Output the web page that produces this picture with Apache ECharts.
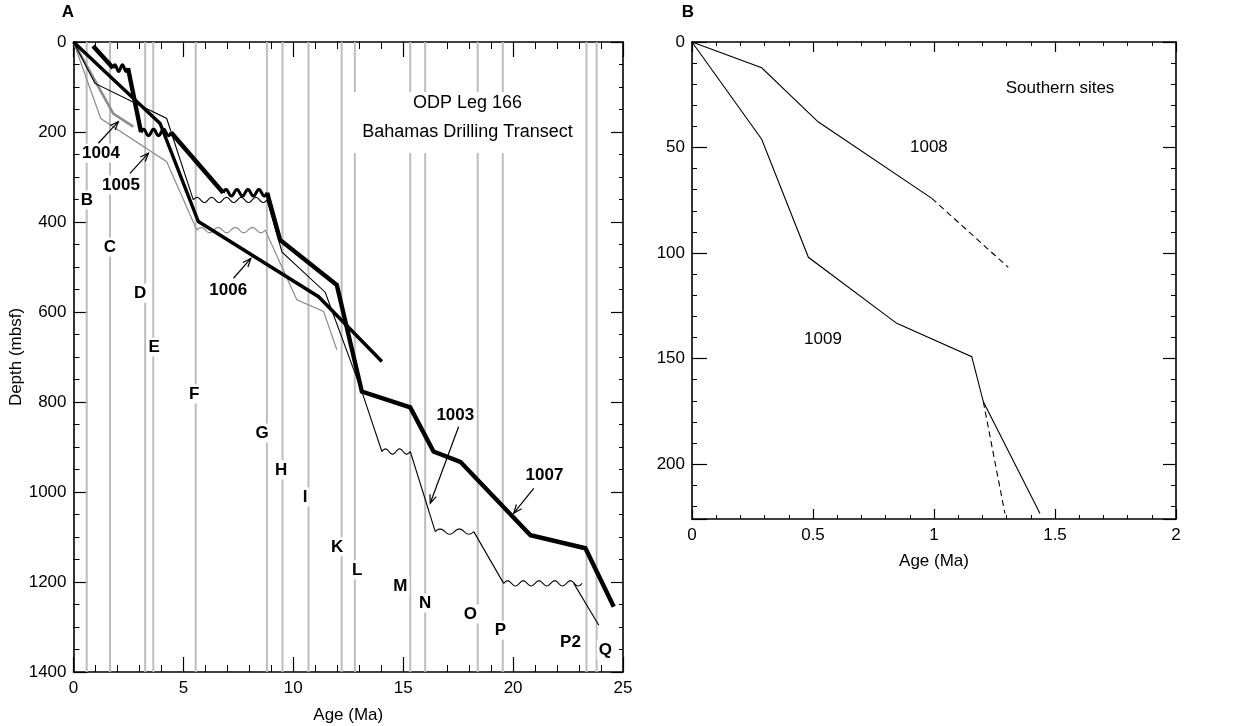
<!DOCTYPE html>
<html><head><meta charset="utf-8">
<script src="https://cdn.jsdelivr.net/npm/echarts@6/dist/echarts.min.js"></script>
<style>html,body{margin:0;padding:0;background:#fff}#c{width:1252px;height:726px}</style>
</head><body><div id="c"></div>
<script>
// ---------- Panel A data (Age in Ma, Depth in mbsf) ----------
const boundaryAges = [0.60,1.66,3.26,3.63,5.56,8.80,9.51,10.69,12.20,12.80,15.32,16.00,18.39,19.53,23.34,23.80];
const boundaryNames = ['B','C','D','E','F','G','H','I','K','L','M','N','O','P','P2','Q'];
const boundaryLabelAges = [0.61,1.66,3.03,3.67,5.49,8.58,9.45,10.54,12.00,12.91,14.87,16.00,18.06,19.42,22.61,24.20];
const boundaryLabelDepths = [351,456,558,678,782,869,951,1011,1122,1173,1209,1247,1271,1307,1333,1351];

const site1003Segments = [
  [[0,0],[0.98,92],[4.24,170],[5.45,351]],
  [[8.80,351],[9.49,467],[11.45,556],[13.12,777],[14.03,910]],
  [[15.32,910],[16.46,1088]],
  [[18.21,1088],[19.57,1203]],
  [[22.76,1203],[23.90,1296]]
];
const site1003Unconformities = [[5.45,8.80,351],[14.03,15.32,910],[16.46,18.21,1088],[19.57,23.14,1203]];

const site1004 = [[0,0],[1.81,159],[2.72,188]];

const site1005Segments = [
  [[0,0],[1.24,170],[4.24,266],[5.61,418]],
  [[8.72,418],[10.16,573],[11.38,599],[11.98,684]]
];
const site1005Unconformities = [[5.61,8.72,418]];

const site1006 = [[0,0],[3.94,181],[5.68,399],[11.15,566],[14.03,710]];

const site1007Segments = [
  [[0.89,9],[1.80,58]],
  [[2.48,58],[3.07,200]],
  [[4.44,201],[6.81,335]],
  [[8.81,335],[9.40,440],[11.98,540],[13.12,777],[15.32,812],[16.38,910],[17.60,933],[20.79,1096],[23.29,1125],[24.58,1255]]
];
const site1007Unconformities = [[1.80,2.48,58],[3.07,4.44,201],[6.81,8.81,335]];

const siteLabelNames = ['1004','1005','1006','1003','1007'];
const siteLabelPositions = [[1.25,247],[2.16,318],[7.04,551],[17.37,829],[21.43,964]];
const siteArrows = [ // tail age, tail depth, head age, head depth
  [1.13,225,2.04,177],
  [2.57,292,3.41,247],
  [7.28,525,8.07,481],
  [17.52,855,16.23,1025],
  [20.94,992,20.03,1047]
];

// ---------- Panel B data ----------
const site1008Solid = [[0,0],[0.288,12.2],[0.521,37.8],[0.991,74.1]];
const site1008Dashed = [[0.991,74.1],[1.307,106.8]];
const site1009Solid = [[0,0],[0.288,46.1],[0.481,102.0],[0.846,133.3],[1.156,149.1],[1.204,170.5],[1.438,223.4]];
const site1009Dashed = [[1.204,170.5],[1.293,223.4]];
const panelBLabelNames = ['1008','1009'];
const panelBLabelPositions = [[0.979,49.8],[0.541,140.8]];

const FONT = '"Liberation Sans", Arial, Helvetica, sans-serif';
const FS = 17;

const chart = echarts.init(document.getElementById('c'), null, {renderer:'canvas'});

function lineSeries(data, color, width, z, xi, yi, dashed){
  return {type:'line', xAxisIndex:xi, yAxisIndex:yi, data:data, symbol:'none', showSymbol:false,
    lineStyle:{color:color, width:width, type: dashed ? [6,4] : 'solid', join:'miter', cap:'butt'},
    z:z, silent:true, animation:false, emphasis:{disabled:true}, clip:true};
}
function waveSeries(waves, color, width, wavelength, amp, z){
  return {type:'custom', xAxisIndex:0, yAxisIndex:0, data:waves, z:z, silent:true, animation:false,
    encode:{x:[0,1], y:2},
    renderItem:function(params, api){
      const a = api.coord([api.value(0), api.value(2)]);
      const b = api.coord([api.value(1), api.value(2)]);
      const len = b[0]-a[0];
      const n = Math.max(2, Math.round(len/wavelength));
      const pts = [];
      const steps = 20*n;
      for(let i=0;i<=steps;i++){
        const t=i/steps;
        pts.push([a[0]+len*t, a[1]-amp*Math.sin(2*Math.PI*n*t)]);
      }
      return {type:'polyline', shape:{points:pts}, style:{stroke:color, lineWidth:width, fill:null}};
    }};
}
function textSeries(names, positions, xi, yi, font, bg, z){
  return {type:'custom', xAxisIndex:xi, yAxisIndex:yi, data:positions, z:z, silent:true, animation:false,
    encode:{x:0,y:1},
    renderItem:function(params, api){
      const p = api.coord([api.value(0), api.value(1)]);
      const st = {text:names[params.dataIndex], fill:'#000', font:font, align:'center', verticalAlign:'middle'};
      if(bg){ st.backgroundColor='#fff'; st.padding=[1,2]; }
      return {type:'text', x:p[0], y:p[1], style:st};
    }};
}

const series = [];
// boundary lines
series.push({type:'custom', xAxisIndex:0, yAxisIndex:0, data:boundaryAges.map(a=>[a,0]), z:1, silent:true, animation:false,
  encode:{x:0,y:1},
  renderItem:function(params, api){
    const x = api.value(0);
    const p1 = api.coord([x,0]), p2 = api.coord([x,1400]);
    return {type:'line', shape:{x1:p1[0],y1:p1[1],x2:p2[0],y2:p2[1]}, style:{stroke:'#bdbdbd', lineWidth:2}};
  }});
series.push(textSeries(boundaryNames, boundaryLabelAges.map((a,i)=>[a,boundaryLabelDepths[i]]), 0,0,'bold 17px '+FONT, true, 3));
series.push(textSeries(siteLabelNames, siteLabelPositions, 0,0,'bold 17px '+FONT, true, 3));
// curves
site1005Segments.forEach(s=>series.push(lineSeries(s,'#8c8c8c',1.2,4,0,0)));
series.push(waveSeries(site1005Unconformities,'#8c8c8c',1.2,16,2.6,4));
series.push(lineSeries(site1004,'#8c8c8c',2.6,4,0,0));
site1003Segments.forEach(s=>series.push(lineSeries(s,'#000',1.1,5,0,0)));
series.push(waveSeries(site1003Unconformities,'#000',1.1,16,2.6,5));
series.push(lineSeries(site1006,'#000',3.4,6,0,0));
site1007Segments.forEach(s=>series.push(lineSeries(s,'#000',4.4,7,0,0)));
series.push(waveSeries(site1007Unconformities,'#000',3,12,3.2,7));
// arrows
series.push({type:'custom', xAxisIndex:0, yAxisIndex:0, data:siteArrows, z:8, silent:true, animation:false,
  encode:{x:[0,2], y:[1,3]},
  renderItem:function(params, api){
    const t = api.coord([api.value(0), api.value(1)]);
    const h = api.coord([api.value(2), api.value(3)]);
    const ang = Math.atan2(h[1]-t[1], h[0]-t[0]);
    const L=9, sp=0.38;
    const l1=[h[0]-L*Math.cos(ang-sp), h[1]-L*Math.sin(ang-sp)];
    const l2=[h[0]-L*Math.cos(ang+sp), h[1]-L*Math.sin(ang+sp)];
    return {type:'group', children:[
      {type:'line', shape:{x1:t[0],y1:t[1],x2:h[0],y2:h[1]}, style:{stroke:'#000',lineWidth:1.2}},
      {type:'polyline', shape:{points:[l1,h,l2]}, style:{stroke:'#000',lineWidth:1.2,fill:null}}
    ]};
  }});
// panel B
series.push(lineSeries(site1008Solid,'#000',1.1,5,2,2));
series.push(lineSeries(site1008Dashed,'#000',1.1,5,2,2,true));
series.push(lineSeries(site1009Solid,'#000',1.1,5,2,2));
series.push(lineSeries(site1009Dashed,'#000',1.1,5,2,2,true));
series.push(textSeries(panelBLabelNames, panelBLabelPositions, 2,2,'17px '+FONT, false, 5));

function xAx(grid, min, max, interval, minorSplit, pos, showLabel, majorLen, minorLen, name, nameGap){
  return {type:'value', gridIndex:grid, min:min, max:max, interval:interval, position:pos,
    axisLine:{show:true, onZero:false, lineStyle:{color:'#000', width:1.6}},
    axisTick:{show:true, inside:true, length:majorLen, lineStyle:{color:'#000', width:1.2}},
    minorTick:{show:true, splitNumber:minorSplit, length:minorLen, lineStyle:{color:'#000', width:1}},
    splitLine:{show:false}, minorSplitLine:{show:false},
    axisLabel:{show:showLabel, color:'#000', fontSize:FS, fontFamily:FONT, margin:8, formatter:function(v){return String(v);}},
    name:name||'', nameLocation:'middle', nameGap:nameGap||0,
    nameTextStyle:{color:'#000', fontSize:FS, fontFamily:FONT}};
}
function yAx(grid, min, max, interval, minorSplit, pos, showLabel, majorLen, minorLen, name, nameGap){
  const a = xAx(grid, min, max, interval, minorSplit, pos, showLabel, majorLen, minorLen, name, nameGap);
  a.inverse = true;
  a.axisLabel.margin = 7;
  a.axisLabel.showMaxLabel = true;
  return a;
}

const yB = yAx(1,0,226,50,5,'left',true,15,5);
yB.axisLabel.showMaxLabel = false;
const yBr = yAx(1,0,226,50,5,'right',false,13,5);

const option = {
  animation:false,
  textStyle:{fontFamily:FONT},
  grid:[
    {left:73.5, top:42, width:549.5, height:630, containLabel:false, outerBoundsMode:'none'},
    {left:692, top:42, width:484, height:477, containLabel:false, outerBoundsMode:'none'}
  ],
  xAxis:[
    xAx(0,0,25,5,5,'bottom',true,15,7,'Age (Ma)',35),
    xAx(0,0,25,5,5,'top',false,15,7),
    xAx(1,0,2,0.5,5,'bottom',true,10,4,'Age (Ma)',34),
    xAx(1,0,2,0.5,5,'top',false,10,4)
  ],
  yAxis:[
    yAx(0,0,1400,200,4,'left',true,14,6,'Depth (mbsf)',44),
    yAx(0,0,1400,200,4,'right',false,12,4),
    yB, yBr
  ],
  graphic:[
    {type:'rect', left:353, top:92, shape:{width:229, height:61}, style:{fill:'#fff'}, z:50, silent:true},
    {type:'text', x:467.5, y:103, style:{text:'ODP Leg 166', font:'18px '+FONT, fill:'#000', align:'center', verticalAlign:'middle'}, z:51},
    {type:'text', x:467.5, y:132, style:{text:'Bahamas Drilling Transect', font:'18px '+FONT, fill:'#000', align:'center', verticalAlign:'middle'}, z:51},
    {type:'text', x:68, y:12, style:{text:'A', font:'bold 17px '+FONT, fill:'#000', align:'center', verticalAlign:'middle'}, z:51},
    {type:'text', x:688, y:12, style:{text:'B', font:'bold 17px '+FONT, fill:'#000', align:'center', verticalAlign:'middle'}, z:51},
    {type:'text', x:1060, y:88, style:{text:'Southern sites', font:'17px '+FONT, fill:'#000', align:'center', verticalAlign:'middle'}, z:51}
  ],
  series:series
};
chart.setOption(option);
</script></body></html>
